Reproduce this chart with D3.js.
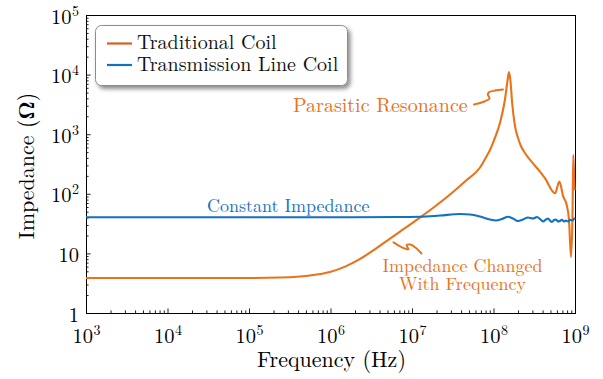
<!DOCTYPE html>
<html>
<head>
<meta charset="utf-8">
<script src="https://cdn.jsdelivr.net/npm/d3@7"></script>
<style>
  html, body { margin: 0; padding: 0; background: #fff; }
  svg { display: block; }
</style>
</head>
<body>
<svg id="chart" width="603" height="379"></svg>
<script>
// Impedance magnitude (Ω) versus frequency (Hz) for the two coil designs
const tradFreq = [1e3, 1e4, 1e5, 2.40e5, 4.23e5, 6.46e5, 9.86e5, 1.51e6, 2.17e6, 3.05e6,
  4.67e6, 7.13e6, 1.25e7, 1.91e7, 2.93e7, 4.47e7, 6.83e7, 8.32e7, 9.06e7, 1.04e8,
  1.20e8, 1.38e8, 1.49e8, 1.55e8, 1.62e8, 1.69e8, 1.84e8, 2.00e8, 2.17e8, 2.44e8,
  3.05e8, 3.72e8, 4.29e8, 5.69e8, 6.42e8, 7.18e8, 7.91e8, 8.44e8, 8.93e8, 9.31e8,
  9.53e8, 9.86e8, 1e9];
const tradZ = [3.87, 3.87, 3.87, 3.93, 4.10, 4.39, 4.89, 6.00, 7.69, 10.3,
  15.5, 23.2, 39.9, 61.2, 97.3, 161, 276, 439, 543, 864,
  1541, 3747, 8120, 11060, 7510, 3470, 1336, 864, 634, 478,
  325, 235, 182, 102, 160, 89.4, 64.9, 36.3, 8.7, 39.3,
  448, 125, 116];

const tlineFreq = [1e3, 1e5, 1e6, 7.13e6, 1.25e7, 2.21e7, 3.88e7, 5.15e7, 6.83e7, 9.06e7,
  1.07e8, 1.27e8, 1.51e8, 1.73e8, 2.00e8, 2.30e8, 2.65e8, 3.05e8, 3.42e8, 3.72e8,
  4.05e8, 4.41e8, 4.67e8, 4.93e8, 5.22e8, 5.52e8, 5.85e8, 6.18e8, 6.54e8, 6.92e8,
  7.32e8, 7.76e8, 8.21e8, 8.68e8, 9.19e8, 1e9];
const tlineZ = [40.3, 40.3, 40.3, 40.8, 41.1, 43.2, 45.8, 45.0, 41.6, 37.1,
  35.6, 37.8, 41.1, 38.5, 35.0, 37.1, 40.0, 38.5, 40.8, 37.8,
  34.3, 37.1, 38.5, 35.6, 33.6, 36.3, 37.1, 34.3, 35.0, 36.6,
  34.3, 35.6, 34.3, 36.6, 35.6, 39.3];

const seriesNames = ["Traditional Coil", "Transmission Line Coil"];
const xTickValues = [1e3, 1e4, 1e5, 1e6, 1e7, 1e8, 1e9];
const yTickValues = [1, 10, 1e2, 1e3, 1e4, 1e5];
const xLabel = "Frequency (Hz)";
const yLabel = "Impedance (";

const FONT = '"Latin Modern Roman"';
const ORANGE = "#E9721A";
const ORANGE_LEGEND = "#DC5B1E";
const BLUE = "#1371BE";

const svg = d3.select("#chart").style("font-family", FONT);
const plot = { left: 86, right: 575, top: 15, bottom: 313 };

const x = d3.scaleLog().domain([1e3, 1e9]).range([plot.left, plot.right]);
const y = d3.scaleLog().domain([1, 1e5]).range([plot.bottom, plot.top]);

// minor ticks: 2..9 within each decade
function minorTicks(lo, hi) {
  const out = [];
  for (let e = lo; e < hi; e++) for (let k = 2; k <= 9; k++) out.push(k * Math.pow(10, e));
  return out;
}

// shadow filter for the legend box, clip for the curves
const defs = svg.append("defs");
defs.append("filter").attr("id", "legShadow")
  .attr("x", "-10%").attr("y", "-20%").attr("width", "130%").attr("height", "160%")
  .append("feDropShadow")
  .attr("dx", 2.5).attr("dy", 3).attr("stdDeviation", 2)
  .attr("flood-color", "#000").attr("flood-opacity", 0.45);
defs.append("clipPath").attr("id", "plotClip").append("rect")
  .attr("x", plot.left).attr("y", plot.top)
  .attr("width", plot.right - plot.left + 1).attr("height", plot.bottom - plot.top);

// write "10" with a raised exponent into an axis label
function powerLabel(sel, expDy) {
  sel.each(function(d) {
    const t = d3.select(this);
    t.text(null);
    const e = Math.round(Math.log10(d));
    if (e === 0) { t.text("1"); return; }
    if (e === 1) { t.text("10"); return; }
    t.append("tspan").text("10");
    t.append("tspan").attr("dy", expDy).style("font-size", "14px").attr("dx", 0.5).text(e);
  });
}

// x axis (inward ticks)
svg.append("g").attr("transform", `translate(0,${plot.bottom})`)
  .call(d3.axisBottom(x).tickValues(minorTicks(3, 9)).tickSize(-2.6).tickFormat(""))
  .call(g => g.select(".domain").remove());
const gx = svg.append("g").attr("transform", `translate(0,${plot.bottom})`)
  .call(d3.axisBottom(x).tickValues(xTickValues).tickSize(-4.6))
  .call(g => g.select(".domain").remove());
gx.selectAll(".tick text")
  .attr("y", 30).attr("dy", 0)
  .style("font-family", FONT).style("font-size", "20.5px").attr("fill", "#000")
  .call(powerLabel, -8);

// y axis (inward ticks)
svg.append("g").attr("transform", `translate(${plot.left},0)`)
  .call(d3.axisLeft(y).tickValues(minorTicks(0, 5)).tickSize(-2.6).tickFormat(""))
  .call(g => g.select(".domain").remove());
const gy = svg.append("g").attr("transform", `translate(${plot.left},0)`)
  .call(d3.axisLeft(y).tickValues(yTickValues).tickSize(-4.6))
  .call(g => g.select(".domain").remove());
gy.selectAll(".tick text")
  .attr("x", -7).attr("y", 8).attr("dy", 0)
  .style("font-family", FONT).style("font-size", "20.5px").attr("fill", "#000")
  .call(powerLabel, -8);
svg.selectAll(".tick line").attr("stroke", "#222");

// plot frame
svg.append("rect")
  .attr("x", plot.left + 0.5).attr("y", plot.top + 0.5)
  .attr("width", plot.right - plot.left).attr("height", plot.bottom - plot.top)
  .attr("fill", "none").attr("stroke", "#000").attr("stroke-width", 1);

// axis titles
svg.append("text")
  .attr("x", (plot.left + plot.right) / 2 + 1).attr("y", 367)
  .attr("text-anchor", "middle").attr("fill", "#000")
  .style("font-family", FONT).style("font-size", "22px")
  .text(xLabel);
const yt = svg.append("text")
  .attr("transform", "translate(33.5,166) rotate(-90)")
  .attr("text-anchor", "middle").attr("fill", "#000")
  .style("font-family", FONT).style("font-size", "22px");
yt.append("tspan").text(yLabel);
yt.append("tspan").style("font-weight", "bold").text("Ω");
yt.append("tspan").text(")");

// curves
const line = d3.line()
  .x(d => x(d[0])).y(d => y(d[1]))
  .curve(d3.curveMonotoneX);
const curves = svg.append("g").attr("clip-path", "url(#plotClip)");
curves.append("path")
  .datum(tradFreq.map((f, i) => [f, tradZ[i]]))
  .attr("d", line).attr("fill", "none")
  .attr("stroke", ORANGE).attr("stroke-width", 2.1).attr("stroke-linejoin", "round");
curves.append("path")
  .datum(tlineFreq.map((f, i) => [f, tlineZ[i]]))
  .attr("d", line).attr("fill", "none")
  .attr("stroke", BLUE).attr("stroke-width", 2.1).attr("stroke-linejoin", "round");

// annotation leaders
const squiggle = d3.line().curve(d3.curveCatmullRom.alpha(0.5));
svg.append("path")
  .attr("d", squiggle([[474, 104.5], [483, 102], [489.5, 98.5], [487.8, 94.5], [489, 92.2], [495, 90.6], [503, 89.5]]))
  .attr("fill", "none").attr("stroke", ORANGE).attr("stroke-width", 2).attr("stroke-linecap", "round");
svg.append("path")
  .attr("d", squiggle([[393.5, 242.3], [401, 246.8], [408.5, 249.3], [406.6, 245.2], [410.5, 244.6], [416, 248], [421.5, 253.5]]))
  .attr("fill", "none").attr("stroke", ORANGE).attr("stroke-width", 2).attr("stroke-linecap", "round");

// annotation texts
function label(xp, yp, size, color, str, anchor) {
  svg.append("text").attr("x", xp).attr("y", yp)
    .attr("text-anchor", anchor || "start").attr("fill", color)
    .style("font-family", FONT).style("font-size", size + "px")
    .text(str);
}
label(293, 112, 20, ORANGE, "Parasitic Resonance");
label(207, 212, 18, BLUE, "Constant Impedance");
label(462.5, 271.5, 18, ORANGE, "Impedance Changed", "middle");
label(462.5, 289.5, 18, ORANGE, "With Frequency", "middle");

// legend
const leg = svg.append("g");
leg.append("rect")
  .attr("x", 95.5).attr("y", 25.5).attr("width", 252).attr("height", 60).attr("rx", 6)
  .attr("fill", "#fff").attr("stroke", "#8c8c8c").attr("stroke-width", 1)
  .attr("filter", "url(#legShadow)");
const legColors = [ORANGE_LEGEND, BLUE];
const legRows = [43.5, 65];
const legBase = [49.3, 70.5];
seriesNames.forEach((name, i) => {
  leg.append("line")
    .attr("x1", 107).attr("x2", 132).attr("y1", legRows[i]).attr("y2", legRows[i])
    .attr("stroke", legColors[i]).attr("stroke-width", 2.2);
  leg.append("text")
    .attr("x", 137).attr("y", legBase[i]).attr("fill", "#111")
    .style("font-family", FONT).style("font-size", "20px")
    .text(name);
});
</script>
</body>
</html>
